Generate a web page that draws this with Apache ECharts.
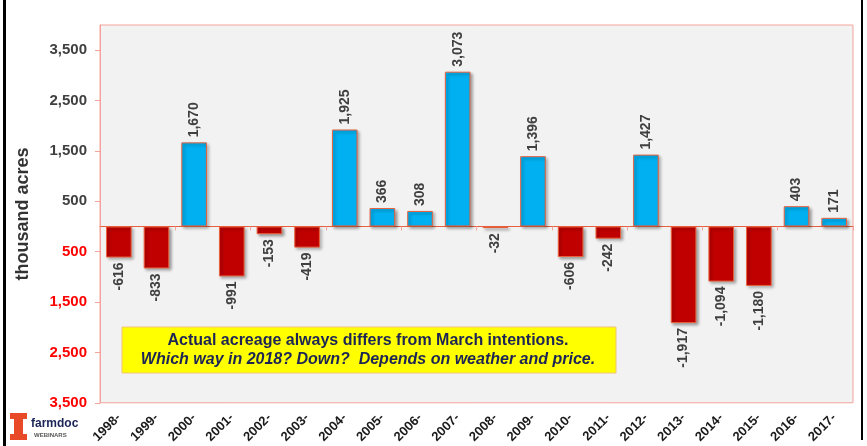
<!DOCTYPE html>
<html>
<head>
<meta charset="utf-8">
<script src="https://cdn.jsdelivr.net/npm/echarts@6/dist/echarts.min.js"></script>
<style>
html,body{margin:0;padding:0;background:#fff;}
#main{width:867px;height:446px;}
</style>
</head>
<body>
<div id="main"></div>
<script>
//年份和面积变化（千英亩）
var years = ['1998-','1999-','2000-','2001-','2002-','2003-','2004-','2005-','2006-','2007-',
             '2008-','2009-','2010-','2011-','2012-','2013-','2014-','2015-','2016-','2017-'];
var changes = [-616,-833,1670,-991,-153,-419,1925,366,308,3073,
               -32,1396,-606,-242,1427,-1917,-1094,-1180,403,171];

var noteLine1 = 'Actual acreage always differs from March intentions.';
var noteLine2 = 'Which way in 2018? Down?  Depends on weather and price.';

var font = 'Liberation Sans, Arial, sans-serif';

function fmt(v) {
    return Math.abs(v).toLocaleString('en-US');
}

//每个柱子单独设置颜色和标签位置
var barData = [];
changes.forEach(function(v, i) {
    var up = v >= 0;
    barData.push({
        value: v,
        itemStyle: { color: up ? '#00b0f0' : '#c00000' },
        label: {
            position: up ? 'top' : 'bottom',
            align: up ? 'left' : 'right'
        }
    });
});

var myChart = echarts.init(document.getElementById('main'));
var option = {
    backgroundColor: '#fff',
    animation: false,
    grid: {
        left: 100,
        right: 14,
        top: 25,
        bottom: 38,
        show: true,
        backgroundColor: '#f2f2f2',
        borderColor: '#f4a39b',
        borderWidth: 1
    },
    xAxis: [{
        type: 'category',
        data: years,
        position: 'bottom',
        axisLine: { show: false, onZero: false },
        axisTick: { show: false },
        axisLabel: {
            rotate: 45,
            interval: 0,
            margin: 13,
            fontFamily: font,
            fontWeight: 'bold',
            fontSize: 13,
            color: '#1a1a1a'
        }
    }, {
        type: 'category',
        data: years,
        position: 'bottom',
        axisLine: { show: true, onZero: true, lineStyle: { color: '#e8603c', width: 1 } },
        axisTick: { show: true, length: 4, lineStyle: { color: '#f4a39b' } },
        axisLabel: { show: false }
    }],
    yAxis: {
        type: 'value',
        min: -3500,
        max: 4000,
        interval: 1000,
        name: 'thousand acres',
        nameLocation: 'middle',
        nameGap: 68,
        nameTextStyle: {
            fontFamily: font,
            fontWeight: 'bold',
            fontSize: 18,
            color: '#333'
        },
        splitLine: { show: false },
        axisLine: { show: true, lineStyle: { color: '#f4a39b' } },
        axisTick: { show: true, length: 5, lineStyle: { color: '#f4a39b' } },
        axisLabel: {
            showMaxLabel: false,
            margin: 13,
            fontFamily: font,
            fontWeight: 'bold',
            fontSize: 15,
            formatter: function(v) { return fmt(v); },
            color: function(v) { return v < 0 ? '#ff0000' : '#404040'; }
        }
    },
    series: [{
        type: 'bar',
        xAxisIndex: 0,
        data: barData,
        barWidth: '68%',
        itemStyle: {
            borderColor: '#e8603c',
            borderWidth: 1,
            shadowColor: 'rgba(0,0,0,0.35)',
            shadowBlur: 3,
            shadowOffsetX: 2,
            shadowOffsetY: 2
        },
        label: {
            show: true,
            rotate: 90,
            distance: 5,
            verticalAlign: 'middle',
            fontFamily: font,
            fontWeight: 'bold',
            fontSize: 14,
            color: '#404040',
            formatter: function(p) {
                return (p.value < 0 ? '-' : '') + fmt(p.value);
            }
        }
    }],
    graphic: [
        //左右黑边
        { type: 'rect', left: 3, top: 0, shape: { width: 3, height: 446 }, style: { fill: '#000' } },
        { type: 'rect', left: 861, top: 0, shape: { width: 2, height: 440 }, style: { fill: '#000' } },
        //提示框
        {
            type: 'rect',
            z: 100,
            shape: { x: 122, y: 327, width: 494, height: 46 },
            style: { fill: '#ffff00', stroke: '#f2c27a', lineWidth: 1 }
        }, {
            type: 'text',
            z: 101,
            x: 368,
            y: 333,
            style: {
                text: noteLine1,
                textAlign: 'center',
                font: 'bold 16px ' + font,
                fill: '#1c2456'
            }
        }, {
            type: 'text',
            z: 101,
            x: 368,
            y: 352,
            style: {
                text: noteLine2,
                textAlign: 'center',
                font: 'italic bold 16px ' + font,
                fill: '#1c2456'
            }
        },
        //logo
        { type: 'rect', shape: { x: 10, y: 413, width: 17, height: 6 }, style: { fill: '#e84a27' } },
        { type: 'rect', shape: { x: 14, y: 419, width: 9, height: 16 }, style: { fill: '#e84a27' } },
        { type: 'rect', shape: { x: 10, y: 434, width: 17, height: 6 }, style: { fill: '#e84a27' } },
        { type: 'text', x: 31, y: 418, style: { text: 'farmdoc', font: 'bold 12px ' + font, fill: '#1c2456' } },
        { type: 'text', x: 34, y: 432, style: { text: 'WEBINARS', font: 'bold 6px ' + font, fill: '#555' } }
    ]
};
myChart.setOption(option);
</script>
</body>
</html>
